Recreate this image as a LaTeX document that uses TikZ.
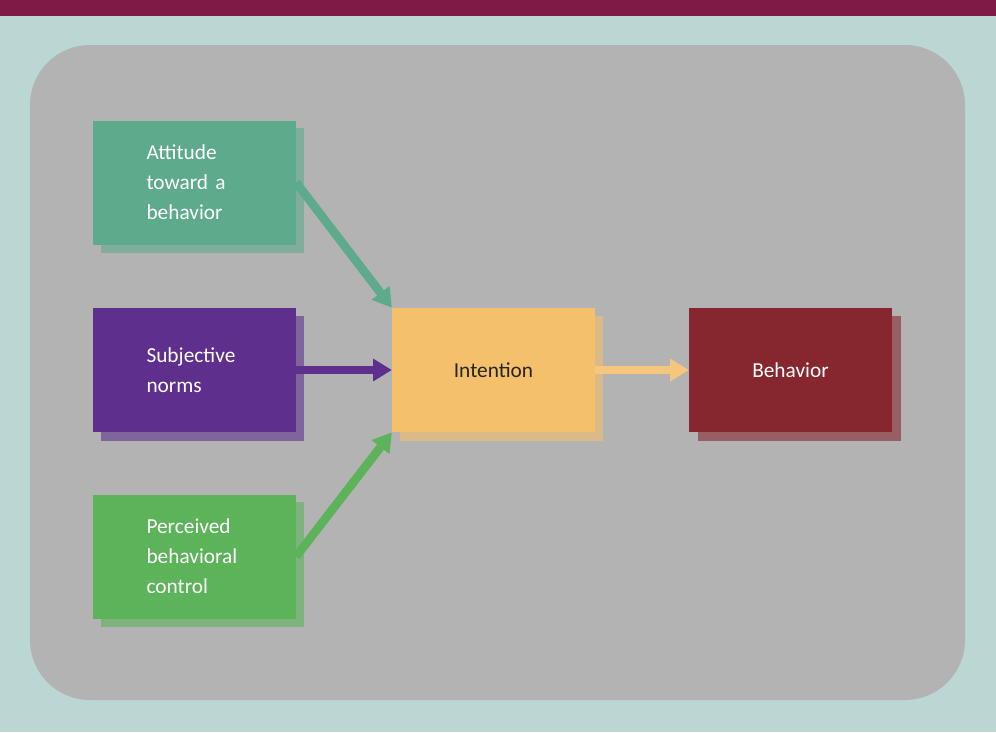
\documentclass[tikz,border=0pt]{standalone}
\usepackage{fontspec}
\setmainfont{Carlito}
\usetikzlibrary{arrows.meta,positioning}
\definecolor{bg}{HTML}{BBD7D4}
\definecolor{topbar}{HTML}{7F1A45}
\definecolor{panel}{HTML}{B3B3B3}
\definecolor{cAtt}{HTML}{5DAA8D}
\definecolor{cSub}{HTML}{5E2F8C}
\definecolor{cPer}{HTML}{5DB35A}
\definecolor{cInt}{HTML}{F4C06C}
\definecolor{cBeh}{HTML}{86262F}
\tikzset{
  box/.style={minimum width=152pt,minimum height=93pt,inner sep=0pt,font=\fontsize{16}{22.5}\selectfont},
  lbox/.style={box,text width=152pt,align=left,text=white},
  shad/.style={fill=#1!60!panel},
  conn/.style={line width=6.5pt,-{Triangle[length=14pt,width=16pt]},#1}
}
\begin{document}
\begin{tikzpicture}[x=0.75pt,y=-0.75pt]
\useasboundingbox (0,0) rectangle (996,732);
\fill[bg] (0,0) rectangle (996,732);
\fill[topbar] (0,0) rectangle (996,16);
\fill[panel,rounded corners=45pt] (30,45) rectangle (965,700);
\foreach \x/\y/\c in {93/120/cAtt,93/308/cSub,93/494/cPer,392/308/cInt,690/308/cBeh}
  \fill[shad=\c] (\x+8,\y+8) rectangle (\x+211,\y+133);
\node[lbox,fill=cAtt] (att) at (194.5,182.5) {\hspace*{40pt}\parbox[c]{100pt}{Attitude\\toward a\\behavior}};
\node[lbox,fill=cSub] (sub) at (194.5,370) {\hspace*{40pt}\parbox[c]{100pt}{Subjective\\norms}};
\node[lbox,fill=cPer] (per) at (194.5,556.5) {\hspace*{40pt}\parbox[c]{100pt}{Perceived\\behavioral\\control}};
\node[box,fill=cInt,text=black!85] (int) at (493.5,370) {Intention};
\node[box,fill=cBeh,text=white] (beh) at (790.5,370) {Behavior};
\draw[conn=cAtt] (att.east) -- (int.north west);
\draw[conn=cSub] (sub.east) -- (int.west);
\draw[conn=cPer] (per.east) -- (int.south west);
\draw[conn=cInt!90!white] (int.east) -- (beh.west);
\end{tikzpicture}
\end{document}
